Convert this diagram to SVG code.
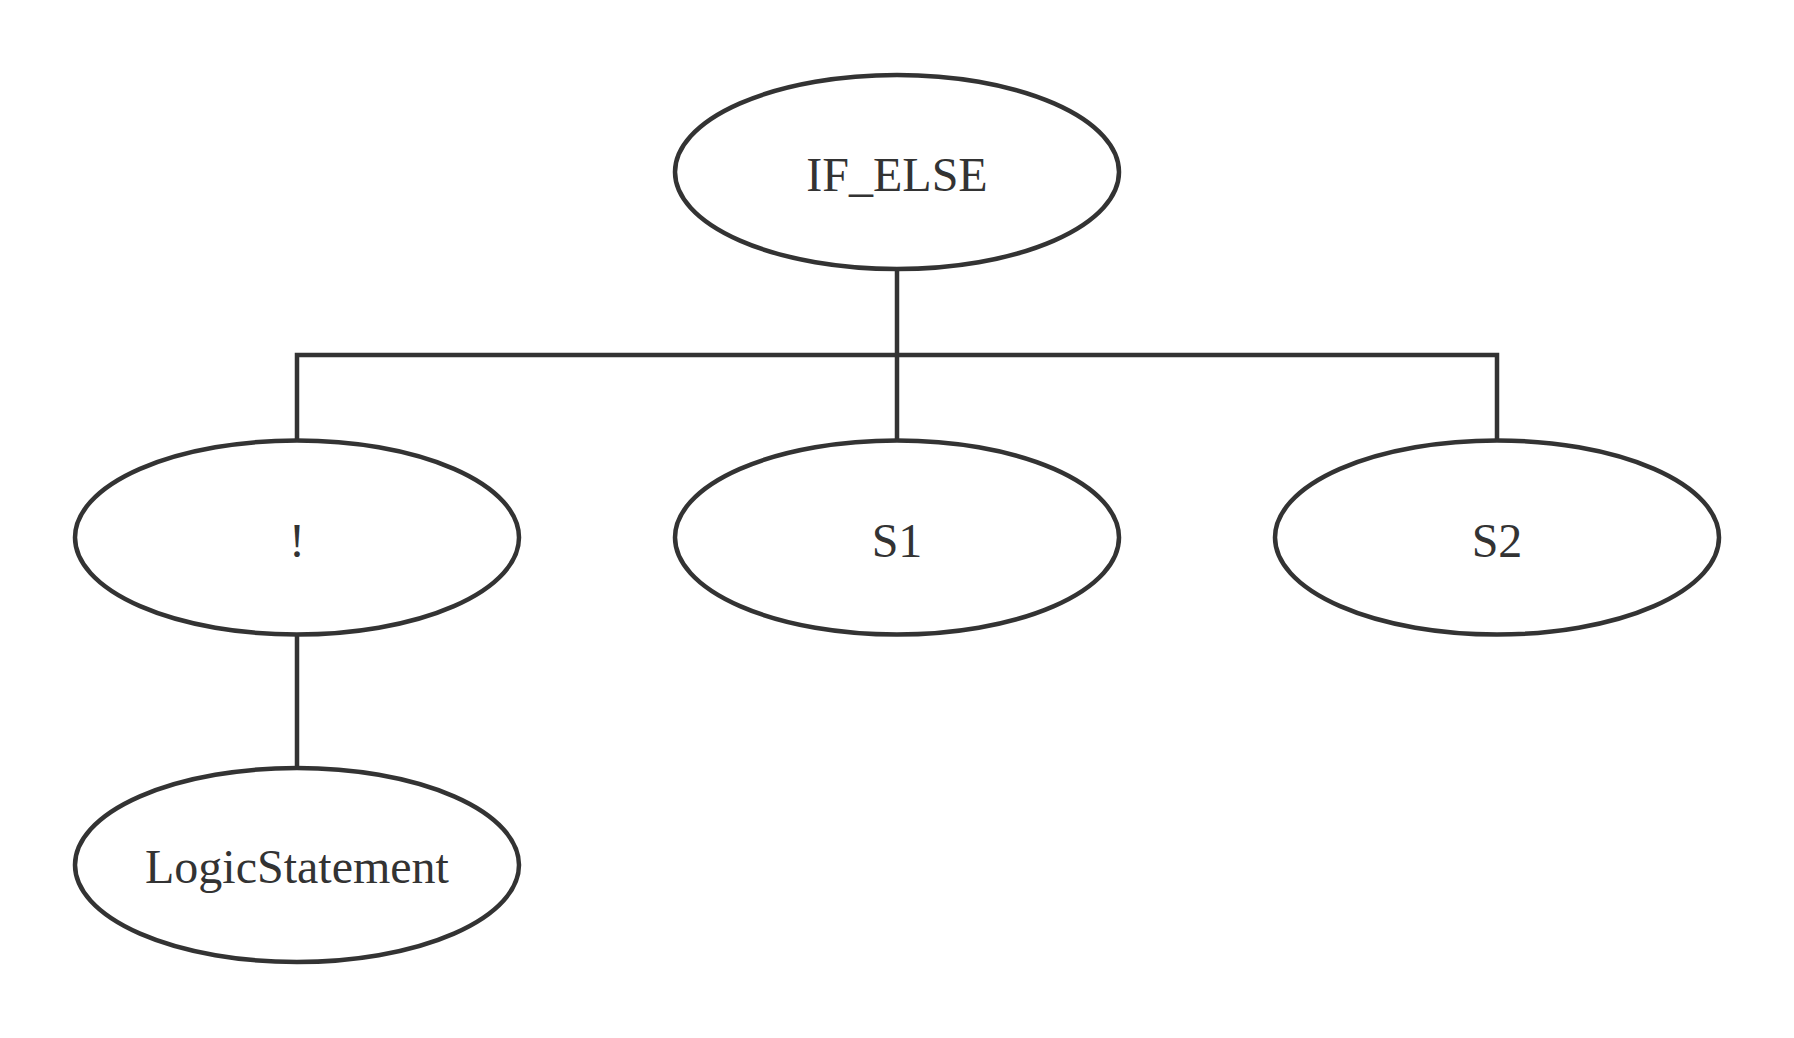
<svg xmlns="http://www.w3.org/2000/svg" width="1794" height="1038" viewBox="0 0 1794 1038">
<style>
.node ellipse{fill:#ffffff;stroke:#333333;stroke-width:4.5}
.node text{font-family:"Liberation Serif","Times New Roman",serif;font-size:48px;fill:#333333;text-anchor:middle}
.conn{fill:none;stroke:#333333;stroke-width:4.5}
</style>
<rect width="1794" height="1038" fill="#ffffff"/>
<g id="connectors">
<path class="conn" d="M897 269 V355"/>
<path class="conn" d="M297 440 V355 H1497 V440"/>
<path class="conn" d="M897 355 V440"/>
<path class="conn" d="M297 635 V768"/>
</g>
<g id="node-ifelse" class="node">
<ellipse cx="897" cy="172" rx="222" ry="97"/>
<text x="897" y="191">IF_ELSE</text>
</g>
<g id="node-not" class="node">
<ellipse cx="297" cy="537.5" rx="222" ry="97"/>
<text x="297" y="557">!</text>
</g>
<g id="node-s1" class="node">
<ellipse cx="897" cy="537.5" rx="222" ry="97"/>
<text x="897" y="557">S1</text>
</g>
<g id="node-s2" class="node">
<ellipse cx="1497" cy="537.5" rx="222" ry="97"/>
<text x="1497" y="557">S2</text>
</g>
<g id="node-logic" class="node">
<ellipse cx="297" cy="865" rx="222" ry="97"/>
<text x="297" y="883">LogicStatement</text>
</g>
</svg>
